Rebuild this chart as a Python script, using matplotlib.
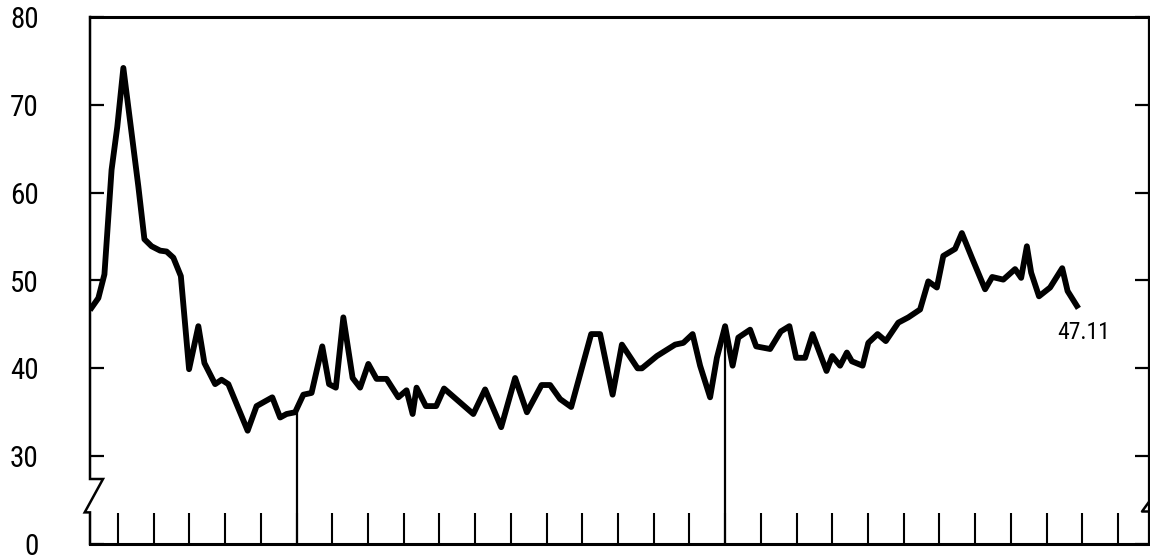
import numpy as np
import matplotlib.pyplot as plt

# month position (0 = first bottom tick) and index value
months = [-0.74, -0.55, -0.38, -0.18, -0.02, 0.15, 0.57, 0.74, 0.94, 1.18, 1.36, 1.55,
          1.76, 1.99, 2.25, 2.42, 2.72, 2.90, 3.09, 3.63, 3.88, 4.32, 4.54, 4.72,
          4.96, 5.19, 5.42, 5.72, 5.91, 6.10, 6.31, 6.57, 6.78, 7.01, 7.24, 7.52,
          7.85, 8.08, 8.25, 8.36, 8.62, 8.91, 9.13, 9.95, 10.28, 10.73, 11.12, 11.45,
          11.86, 12.10, 12.38, 12.69, 13.25, 13.50, 13.85, 14.11, 14.55, 14.67, 15.09, 15.60,
          15.83, 16.09, 16.30, 16.58, 16.77, 17.00, 17.21, 17.37, 17.70, 17.87, 18.26, 18.56,
          18.80, 18.99, 19.24, 19.45, 19.84, 20.00, 20.22, 20.41, 20.55, 20.85, 21.01, 21.27,
          21.50, 21.85, 22.13, 22.46, 22.69, 22.93, 23.11, 23.44, 23.63, 23.91, 24.28, 24.48,
          24.79, 25.12, 25.29, 25.45, 25.57, 25.79, 26.10, 26.44, 26.59, 26.85]
values = [46.9, 48.0, 50.7, 62.6, 67.5, 74.2, 60.7, 54.7, 53.9, 53.4, 53.3, 52.6,
          50.5, 39.9, 44.8, 40.6, 38.2, 38.7, 38.2, 32.9, 35.7, 36.7, 34.4, 34.8,
          35.0, 37.0, 37.2, 42.5, 38.2, 37.8, 45.8, 38.9, 37.8, 40.5, 38.8, 38.8,
          36.7, 37.5, 34.8, 37.8, 35.7, 35.7, 37.7, 34.8, 37.6, 33.3, 38.9, 35.0,
          38.1, 38.1, 36.5, 35.6, 43.9, 43.9, 37.0, 42.7, 40.0, 40.0, 41.4, 42.7,
          42.9, 43.9, 40.3, 36.7, 41.2, 44.8, 40.3, 43.5, 44.4, 42.5, 42.2, 44.2,
          44.8, 41.2, 41.2, 43.9, 39.7, 41.4, 40.3, 41.8, 40.8, 40.3, 42.9, 43.9,
          43.1, 45.2, 45.8, 46.7, 49.9, 49.2, 52.8, 53.6, 55.4, 52.6, 49.0, 50.4,
          50.1, 51.3, 50.3, 53.9, 50.9, 48.2, 49.2, 51.4, 48.8, 47.11]
last_label = '47.11'

month_ticks = list(range(29))
year_marks = [5, 17]          # longer lines reaching up to the curve

# the scale is broken: the bottom edge stands for 0, the rest is 30..80
y_ticks = [20, 30, 40, 50, 60, 70, 80]
y_labels = ['0', '30', '40', '50', '60', '70', '80']

# narrow face if one is around, else plain sans
font = ['Liberation Sans Narrow', 'Roboto Condensed', 'Open Sans Condensed',
        'DejaVu Sans']

fig = plt.figure(figsize=(11.5, 5.59), dpi=100)
ax = fig.add_axes([90 / 1150, 15 / 559, 1059 / 1150, 527 / 559])

ax.plot(months, values, color='black', lw=4.2, solid_joinstyle='round', zorder=3)

ax.vlines(year_marks, 20, np.interp(year_marks, months, values), color='black', lw=1.6)

ax.annotate(last_label, xy=(months[-1], values[-1]), xytext=(-14, -11),
            textcoords='offset points', ha='left', va='top',
            fontsize=17, family=font, fontstretch='condensed')

ax.set_xlim(-0.784, 28.87)
ax.set_ylim(20, 80)

ax.set_xticks(month_ticks)
ax.set_xticklabels([])
ax.tick_params(axis='x', direction='in', length=22, width=1.5, color='black')

ax.set_yticks(y_ticks)
ax.set_yticklabels(y_labels, family=font, fontsize=21, fontstretch='condensed')
ax.tick_params(axis='y', direction='in', length=10, width=1.6, pad=37,
               right=True, color='black')

for side in ['top', 'bottom']:
    ax.spines[side].set_linewidth(2.2)
ax.spines['right'].set_linewidth(1.6)
ax.spines['left'].set_visible(False)

# left edge with the zigzag break
bt = (27.4 - 20) / 60
bb = (23.6 - 20) / 60
dx = 13 / 1059
ax.plot([0, 0, dx, -0.005, 0, 0], [1, bt, bt, bb, bb, 0], color='black',
        lw=1.8, transform=ax.transAxes, clip_on=False, solid_joinstyle='miter')
# small break mark on the right edge
bt2 = (25.3 - 20) / 60
bb2 = (23.7 - 20) / 60
ax.plot([1.003, 1 - 7 / 1059, 1.003], [bt2, bb2, bb2], color='black',
        lw=1.8, transform=ax.transAxes, clip_on=False)

fig.savefig('out.png', dpi=100)
